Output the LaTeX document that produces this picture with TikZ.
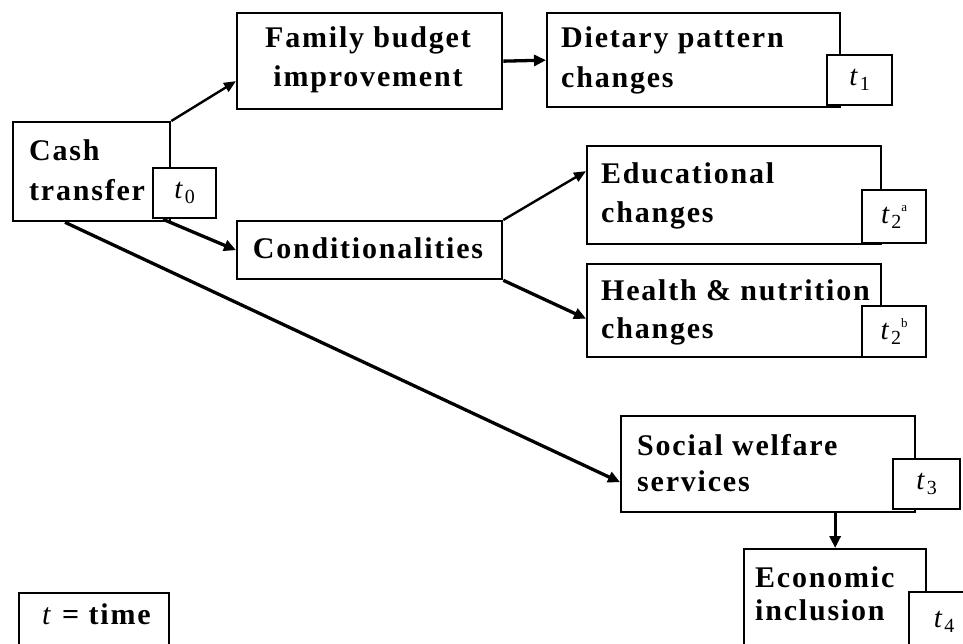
\documentclass[tikz,border=0pt]{standalone}
\usepackage{fontspec}
\setmainfont[LetterSpace=6]{Liberation Serif}
\usetikzlibrary{arrows.meta,calc}
\newcommand\tsub[1]{\textit{t}\raisebox{-0.4ex}{\fontsize{20}{20}\selectfont\upshape #1}}
\newcommand\tsubsup[2]{\textit{t}\raisebox{-0.4ex}{\fontsize{20}{20}\selectfont\upshape #1}\raisebox{0.9ex}{\fontsize{13}{13}\selectfont\upshape #2}}
\begin{document}
\begin{tikzpicture}[x=1pt,y=-1pt,
  box/.style={draw=black,line width=2.3pt,fill=white,inner sep=0pt,anchor=north west},
  tbox/.style={draw=black,line width=2.3pt,fill=white,inner sep=0pt,anchor=north west,font=\fontsize{29}{29}\selectfont},
  lbl/.style={font=\bfseries\fontsize{30}{40}\selectfont,inner sep=0pt,anchor=base west,align=left},
  clbl/.style={font=\bfseries\fontsize{30}{39}\selectfont,inner sep=0pt,anchor=base,align=center},
  arr/.style={line width=3.3pt,-{Triangle[length=12pt,width=11pt]}},
  thinarr/.style={line width=2.4pt,-{Triangle[length=12pt,width=10pt]}}]
\clip (0,0) rectangle (963,643);
\fill[white] (0,0) rectangle (963,643);
% boxes
\node[box,minimum width=157pt,minimum height=99pt] (cash) at (12,121) {};
\node[tbox,minimum width=63pt,minimum height=50pt] (t0) at (152,167) {\tsub{0}};
\node[box,minimum width=265pt,minimum height=96pt] (family) at (236,12) {};
\node[box,minimum width=293pt,minimum height=94pt] (diet) at (546,12) {};
\node[tbox,minimum width=65pt,minimum height=50pt] (t1) at (826,54) {\tsub{1}};
\node[box,minimum width=265pt,minimum height=58pt] (cond) at (236,220) {};
\node[box,minimum width=294pt,minimum height=98pt] (edu) at (586,145) {};
\node[tbox,minimum width=64pt,minimum height=53pt] (t2a) at (861,189) {\tsubsup{2}{a}};
\node[box,minimum width=294pt,minimum height=93pt] (health) at (586,263) {};
\node[tbox,minimum width=64pt,minimum height=51pt] (t2b) at (861,305) {\tsubsup{2}{b}};
\node[box,minimum width=294pt,minimum height=96pt] (social) at (620,415) {};
\node[tbox,minimum width=67pt,minimum height=50pt] (t3) at (892,458) {\tsub{3}};
\node[box,minimum width=182pt,minimum height=120pt] (econ) at (743,548) {};
\node[tbox,minimum width=70pt,minimum height=70pt,text height=31pt,text depth=31pt] (t4) at (908,591) {\tsub{4}};
\node[box,minimum width=150pt,minimum height=70pt] (key) at (18,592) {};
% texts
\node[lbl] (cashtxt) at (29,200) {Cash\\transfer};
\node[clbl] (familytxt) at (368,86) {Family budget\\improvement};
\node[lbl] (diettxt) at (561,87) {Dietary pattern\\changes};
\node[clbl] (condtxt) at (368,258) {Conditionalities};
\node[lbl,font=\bfseries\fontsize{30}{39}\selectfont] (edutxt) at (601,222) {Educational\\changes};
\node[lbl,font=\bfseries\fontsize{30}{38}\selectfont] (healthtxt) at (601,338) {Health \& nutrition\\changes};
\node[lbl,font=\bfseries\fontsize{30}{36}\selectfont] (socialtxt) at (637,491) {Social welfare\\services};
\node[lbl,font=\bfseries\fontsize{30}{33}\selectfont] (econtxt) at (755,620) {Economic\\inclusion};
\node[inner sep=0pt,anchor=base west,font=\fontsize{30}{30}\selectfont] (keytxt) at (42,624) {\textit{t} \textbf{= time}};
% connectors
\draw[thinarr] (cash.north east) -- ([yshift=-20pt]family.west);
\draw[arr] (family.east) -- (diet.west);
\draw[arr] ([xshift=11pt]t0.south west) -- (cond.west);
\draw[arr] ([xshift=53pt]cash.south west) -- ([yshift=-18pt]social.west);
\draw[thinarr] (cond.north east) -- ([yshift=24pt]edu.west);
\draw[arr] (cond.south east) -- ([yshift=-8pt]health.west);
\draw[arr] (econ.north |- social.south) -- (econ.north);
\end{tikzpicture}
\end{document}
